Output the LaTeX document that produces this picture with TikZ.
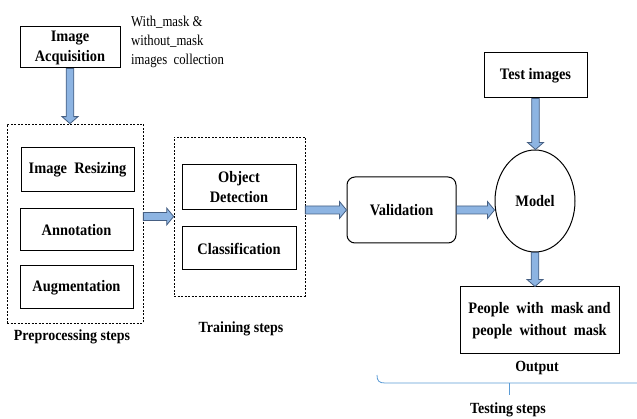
\documentclass[tikz,border=0pt]{standalone}
\usepackage{fontspec}
\setmainfont{Liberation Serif}[FakeStretch=0.9]
\newfontfamily\notefont{Liberation Serif}[FakeStretch=0.85]
\usetikzlibrary{calc,shapes.geometric}

\definecolor{afill}{RGB}{141,180,226}
\definecolor{aline}{RGB}{70,95,130}
\definecolor{bracecol}{RGB}{91,155,213}

\tikzset{
  box/.style={draw, line width=1pt, inner sep=0pt, align=center,
              font=\bfseries\fontsize{16}{20}\selectfont},
  dbox/.style={draw, dash pattern=on 2pt off 1.5pt, line width=0.7pt, inner sep=0pt},
  lbl/.style={inner sep=0pt, font=\bfseries\fontsize{15.5}{18}\selectfont},
  blockarrow/.style={draw=aline, fill=afill, line width=0.8pt, line join=miter},
  bracket/.style={draw=bracecol, line width=0.8pt},
}

\newcommand\harrow[2]{\path[blockarrow] let \p1=#1, \p2=#2 in
  (\x1,\y1+4pt) -- (\x2-7pt,\y1+4pt) -- (\x2-7pt,\y1+8.5pt) -- (\x2,\y1)
  -- (\x2-7pt,\y1-8.5pt) -- (\x2-7pt,\y1-4pt) -- (\x1,\y1-4pt) -- cycle;}
\newcommand\varrow[2]{\path[blockarrow] let \p1=#1, \p2=#2 in
  (\x1-3.8pt,\y1) -- (\x1-3.8pt,\y2+7pt) -- (\x1-8pt,\y2+7pt) -- (\x1,\y2)
  -- (\x1+8pt,\y2+7pt) -- (\x1+3.8pt,\y2+7pt) -- (\x1+3.8pt,\y1) -- cycle;}

\begin{document}
\begin{tikzpicture}[x=1pt,y=-1pt]
\useasboundingbox (0,0) rectangle (637,419);

% acquisition
\node[box, minimum width=100pt, minimum height=41pt] (acq) at (70,47.5) {Image\\Acquisition};
\node[anchor=west, inner sep=0pt, align=left, font=\notefont\fontsize{15}{19}\selectfont] (note) at (131,42)
  {With\_mask \&\\without\_mask\\images\ \ collection};

% preprocessing
\node[dbox, minimum width=136pt, minimum height=199pt] (pre) at (75,223.5) {};
\node[box, minimum width=113pt, minimum height=44pt] (resize) at (77.5,170) {Image\ \ Resizing};
\node[box, minimum width=113pt, minimum height=42pt] (ann) at (76.5,230) {Annotation};
\node[box, minimum width=113pt, minimum height=43pt] (aug) at (76.5,287.5) {Augmentation};
\node[lbl] (prelbl) at (72,337) {Preprocessing steps};

% training
\node[dbox, minimum width=131pt, minimum height=159pt] (train) at (239.5,216.5) {};
\node[box, minimum width=114pt, minimum height=45pt] (od) at (239,187.5) {Object\\Detection};
\node[box, minimum width=114pt, minimum height=43pt] (cls) at (239,248.5) {Classification};
\node[lbl] (trainlbl) at (241,329) {Training steps};

% validation
\node[box, rounded corners=8pt, minimum width=109pt, minimum height=66pt] (val) at (401.5,210) {Validation};

% testing
\node[box, minimum width=103pt, minimum height=45pt] (test) at (535.5,75.5) {Test images};
\node[box, ellipse, minimum width=80pt, minimum height=102pt] (model) at (535,201) {Model};
\node[box, minimum width=159pt, minimum height=67pt, font=\bfseries\fontsize{16}{22}\selectfont] (out) at (539.5,320.5)
  {People\ \ with\ \ mask and\\people\ \ without\ \ mask};
\node[lbl] (outlbl) at (537,368) {Output};
\node[lbl] (testlbl) at (508,410) {Testing steps};

% arrows
\varrow{(acq.south)}{(pre.north)}
\harrow{(pre.east |- train.west)}{(train.west)}
\harrow{(train.east |- val.west)}{(val.west)}
\harrow{(val.east)}{(val.east -| model.west)}
\varrow{(test.south)}{(model.north)}
\varrow{(model.south)}{(model.south |- out.north)}

% bracket
\coordinate (bl) at (377,375);
\coordinate (br) at (640,383);
\coordinate (bm) at (509,383);
\coordinate (bt) at (509,395);
\draw[bracket] (bl) .. controls (377,381) and (379,383) .. (385,383) -- (br);
\draw[bracket] (bm) -- (bt);
\end{tikzpicture}
\end{document}
